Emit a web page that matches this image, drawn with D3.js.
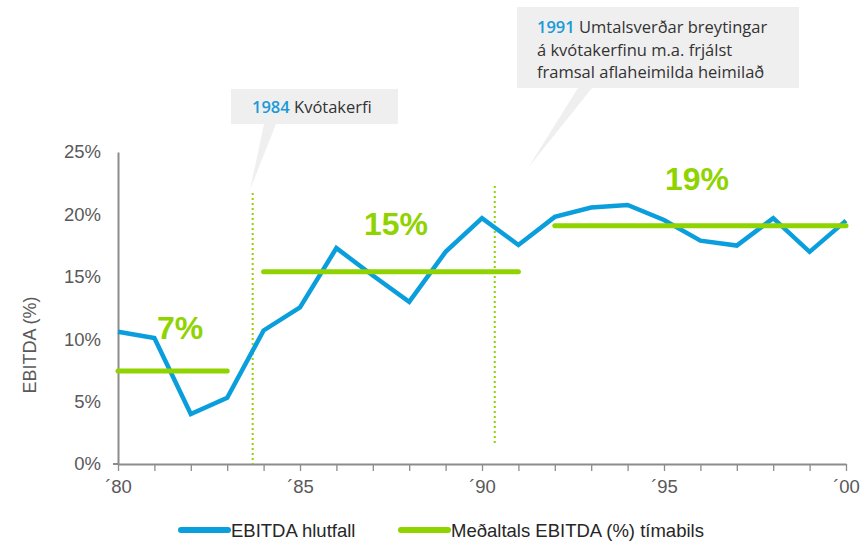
<!DOCTYPE html>
<html>
<head>
<meta charset="utf-8">
<script src="https://cdn.jsdelivr.net/npm/d3@7/dist/d3.min.js"></script>
<style>
  html, body { margin: 0; padding: 0; background: #fff; }
  svg { display: block; }
</style>
</head>
<body>
<svg id="chart" width="865" height="541"></svg>
<script>
// EBITDA ratio by year, 1980–2000
const years = d3.range(1980, 2001);
const ebitda = [10.6, 10.1, 4.0, 5.3, 10.7, 12.55, 17.3, 15.1, 13.0, 17.0, 19.7,
                17.55, 19.8, 20.55, 20.75, 19.55, 17.9, 17.5, 19.7, 17.0, 19.5];

// Period averages
const periodStart = [1980, 1984, 1992];
const periodEnd   = [1983, 1991, 2000];
const periodAvg   = [7.45, 15.4, 19.1];

// Quota-system milestones (dotted markers)
const markerYear = [1983.7, 1990.35];
const yTicks = [0, 5, 10, 15, 20, 25];
const xLabelYears = [1980, 1985, 1990, 1995, 2000];

const blue = "#0a9fdc";
const green = "#8fd300";
const axisGrey = "#8c8c8c";
const textGrey = "#595959";
const sans = "Liberation Sans, Arial, sans-serif";

const svg = d3.select("#chart");
const x = d3.scaleLinear().domain([1980, 2000]).range([118, 846]);
const y = d3.scaleLinear().domain([0, 25]).range([464, 152]);

// Y axis
const yAxis = d3.axisLeft(y).tickValues(yTicks).tickSize(0).tickPadding(17)
  .tickFormat(d => d + "%");
svg.append("g").attr("transform", `translate(${x(1980)},0)`).call(yAxis)
  .call(g => g.select(".domain").attr("stroke", axisGrey).attr("stroke-width", 2))
  .call(g => g.selectAll("text").attr("fill", textGrey)
    .style("font-family", sans).style("font-size", "18.5px"));
svg.append("line").attr("x1", x(1980) - 5).attr("x2", x(1980))
  .attr("y1", y(0)).attr("y2", y(0)).attr("stroke", axisGrey).attr("stroke-width", 2);

// X axis: yearly ticks, labels every five years
const xAxis = d3.axisBottom(x).tickValues(years).tickSize(7).tickSizeOuter(0).tickPadding(9)
  .tickFormat(d => xLabelYears.includes(d) ? "\u00B4" + String(d % 100).padStart(2, "0") : "");
svg.append("g").attr("transform", `translate(0,${y(0)})`).call(xAxis)
  .call(g => g.select(".domain").attr("stroke", axisGrey).attr("stroke-width", 2))
  .call(g => g.selectAll(".tick line").attr("stroke", axisGrey).attr("stroke-width", 1.3))
  .call(g => g.selectAll("text").attr("fill", textGrey)
    .style("font-family", sans).style("font-size", "18.5px"));

// Y axis title
svg.append("text")
  .attr("transform", `translate(36,345) rotate(-90)`)
  .attr("text-anchor", "middle")
  .attr("fill", textGrey)
  .style("font-family", sans).style("font-size", "18px")
  .text("EBITDA (%)");

// Dotted milestone markers
const markerTop = [193, 186];
const markerBottom = [464, 444];
svg.selectAll(".marker").data(markerYear).join("line")
  .attr("x1", d => x(d)).attr("x2", d => x(d))
  .attr("y1", (d, i) => markerTop[i]).attr("y2", (d, i) => markerBottom[i])
  .attr("stroke", green).attr("stroke-width", 2).attr("stroke-dasharray", "2,3");

// Callouts
const calloutFill = "#efefef";
const callouts = [
  { box: [231, 89, 167, 35], tip: [[264, 124], [276, 124], [250, 190]],
    lines: [["1984", " Kvótakerfi"]], tx: 252, ty: 113 },
  { box: [517, 7, 282, 81], tip: [[578, 88], [592, 88], [528, 168]],
    lines: [["1991", " Umtalsverðar breytingar"], ["", "á kvótakerfinu m.a. frjálst"], ["", "framsal aflaheimilda heimilað"]],
    tx: 537, ty: 33 }
];
callouts.forEach(c => {
  svg.append("polygon").attr("points", c.tip.map(p => p.join(",")).join(" ")).attr("fill", calloutFill);
  svg.append("rect").attr("x", c.box[0]).attr("y", c.box[1])
    .attr("width", c.box[2]).attr("height", c.box[3]).attr("fill", calloutFill);
  c.lines.forEach((ln, i) => {
    const t = svg.append("text").attr("x", c.tx).attr("y", c.ty + i * 22.5)
      .style("font-family", "Open Sans, sans-serif").style("font-size", "16.5px");
    if (ln[0]) t.append("tspan").attr("fill", "#1a9ad6").attr("font-weight", 600).text(ln[0]);
    t.append("tspan").attr("fill", "#333").text(ln[1]);
  });
});

// EBITDA line
const line = d3.line().x((d, i) => x(years[i])).y(d => y(d));
svg.append("path").datum(ebitda).attr("d", line)
  .attr("fill", "none").attr("stroke", blue).attr("stroke-width", 4.5)
  .attr("stroke-linejoin", "miter");

// Period average lines
svg.selectAll(".avg").data(periodAvg).join("line")
  .attr("x1", (d, i) => x(periodStart[i])).attr("x2", (d, i) => x(periodEnd[i]))
  .attr("y1", d => y(d)).attr("y2", d => y(d))
  .attr("stroke", green).attr("stroke-width", 5).attr("stroke-linecap", "round");

// Period average labels
const labelX = [180, 396, 697];
const labelY = [339, 235, 190];
svg.selectAll(".avgLabel").data(periodAvg).join("text")
  .attr("x", (d, i) => labelX[i]).attr("y", (d, i) => labelY[i])
  .attr("text-anchor", "middle").attr("fill", green).attr("font-weight", "bold")
  .style("font-family", sans).style("font-size", "32px")
  .text(d => Math.round(d) + "%");

// Legend
const legend = [
  { color: blue, label: "EBITDA hlutfall", x0: 181, x1: 228, tx: 231 },
  { color: green, label: "Meðaltals EBITDA (%) tímabils", x0: 401, x1: 448, tx: 451 }
];
legend.forEach(l => {
  svg.append("line").attr("x1", l.x0).attr("x2", l.x1).attr("y1", 530).attr("y2", 530)
    .attr("stroke", l.color).attr("stroke-width", 6).attr("stroke-linecap", "round");
  svg.append("text").attr("x", l.tx).attr("y", 536.5).attr("fill", "#262626")
    .style("font-family", sans).style("font-size", "18.5px")
    .text(l.label);
});
</script>
</body>
</html>
